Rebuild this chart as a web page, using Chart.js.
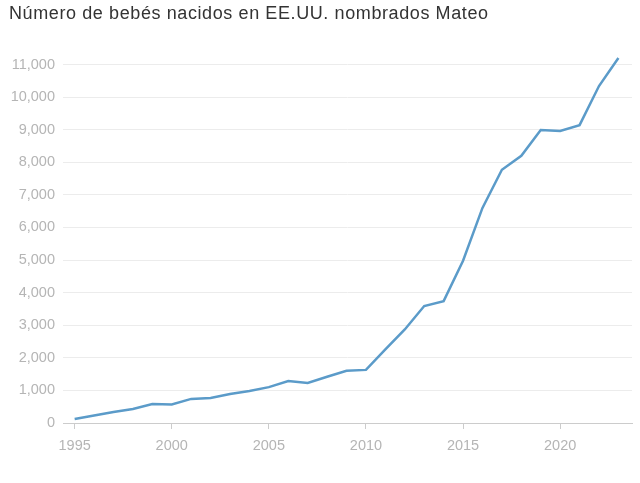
<!DOCTYPE html>
<html>
<head>
<meta charset="utf-8">
<script src="https://cdn.jsdelivr.net/npm/chart.js@4"></script>
<style>
  html, body { margin: 0; padding: 0; background: #fff; }
  #wrap { position: relative; width: 640px; height: 483px; }
  #title { position: absolute; left: 9px; top: 3px; font: 18px "Liberation Sans", Arial, sans-serif; letter-spacing: 0.6px; color: #333; }
  canvas { position: absolute; left: 0; top: 0; }
</style>
</head>
<body>
<div id="wrap">
  <canvas id="chart" width="640" height="483"></canvas>
  <div id="title">Número de bebés nacidos en EE.UU. nombrados Mateo</div>
</div>
<script>
const years = [1995, 1996, 1997, 1998, 1999, 2000, 2001, 2002, 2003, 2004,
  2005, 2006, 2007, 2008, 2009, 2010, 2011, 2012, 2013, 2014,
  2015, 2016, 2017, 2018, 2019, 2020, 2021, 2022, 2023];
const babies = [120, 230, 340, 430, 580, 570, 740, 770, 890, 980,
  1100, 1290, 1230, 1420, 1600, 1630, 2260, 2870, 3590, 3740,
  4980, 6600, 7770, 8200, 8990, 8960, 9140, 10340, 11200];
const xTicks = [1995, 2000, 2005, 2010, 2015, 2020];
const yTicks = [0, 1000, 2000, 3000, 4000, 5000, 6000, 7000, 8000, 9000, 10000, 11000];

const tickFont = { family: "'Liberation Sans', Arial, sans-serif", size: 14.5 };

new Chart(document.getElementById("chart").getContext("2d"), {
  type: "line",
  data: {
    datasets: [{
      data: years.map((y, i) => ({ x: y, y: babies[i] })),
      borderColor: "#5b9bc9",
      borderWidth: 2.5,
      pointRadius: 0,
      tension: 0,
      fill: false
    }]
  },
  options: {
    responsive: false,
    animation: false,
    layout: { padding: { top: 45, right: 8, left: 0, bottom: 0 } },
    plugins: { legend: { display: false }, tooltip: { enabled: false } },
    scales: {
      x: {
        type: "linear",
        min: 1994.4,
        max: 2023.7,
        afterBuildTicks: (axis) => { axis.ticks = xTicks.map((v) => ({ value: v })); },
        afterFit: (axis) => { axis.height = 60; },
        grid: { drawOnChartArea: false, drawTicks: true, tickLength: 6, color: "#cccccc" },
        border: { display: true, color: "#cccccc", width: 1 },
        ticks: { color: "#b5b5b5", font: tickFont, padding: 8, maxRotation: 0, callback: (v) => String(v) }
      },
      y: {
        min: 0,
        max: 11600,
        afterBuildTicks: (axis) => { axis.ticks = yTicks.map((v) => ({ value: v })); },
        afterFit: (axis) => { axis.width = 63; },
        grid: { color: "#ececec", drawTicks: false },
        border: { display: false },
        ticks: { color: "#b5b5b5", font: tickFont, padding: 8, callback: (v) => v.toLocaleString("en-US") }
      }
    }
  }
});
</script>
</body>
</html>
